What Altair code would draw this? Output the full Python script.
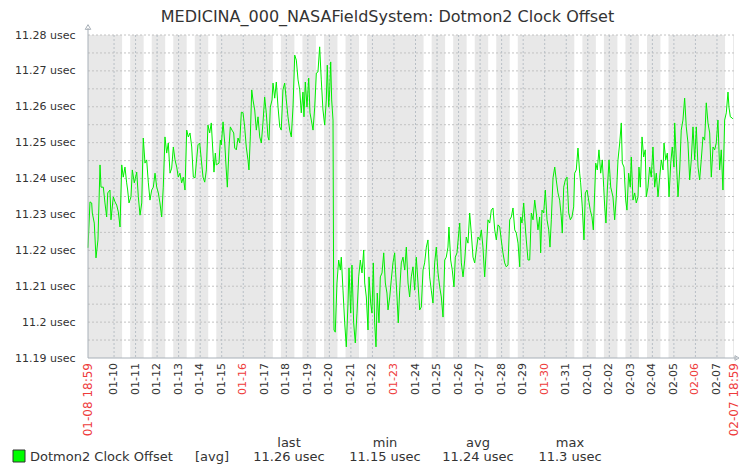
import altair as alt
import pandas as pd

TITLE = "MEDICINA_000_NASAFieldSystem: Dotmon2 Clock Offset"
START = "2022-01-08 18:59"
END_LABEL = "02-07 18:59"
START_LABEL = "01-08 18:59"
SPAN_HOURS = 720

# hours since START, and the plotted value (usec)
hours = [
    0, 2.2, 4.1, 4.8, 7.0, 8.9, 11.1, 13.4, 14.5, 17.1, 18.9, 20.8, 22.0, 24.5, 25.6, 28.2, 30.1, 32.0, 33.8, 35.7,
    37.6, 39.3, 41.2, 43.1, 44.2, 45.7, 47.9, 49.4, 51.6, 54.3, 56.1, 58.0, 59.9, 61.6, 63.5, 65.4, 67.2, 69.1, 71.0, 72.8,
    74.7, 76.6, 78.4, 80.2, 82.1, 83.9, 85.8, 87.7, 89.5, 91.4, 93.3, 95.1, 97.0, 98.9, 100.6, 102.5, 104.4, 106.2, 108.1, 110.0,
    111.8, 113.7, 115.6, 117.4, 119.3,
    120.7, 122.6, 124.5, 126.3, 128.2, 130.1, 131.9, 133.7, 135.6, 137.4, 139.3, 140.4, 141.9, 143.0, 146.0, 147.5, 148.6, 150.5, 152.4, 154.1,
    155.3, 157.2, 158.6, 160.5, 162.4, 163.5, 165.3, 167.2, 169.1, 170.9, 172.8, 174.6, 176.4, 178.3, 179.4, 180.9, 182.5, 183.9, 185.8, 187.6,
    189.5, 191.4, 193.2, 195.0, 196.9, 198.7, 200.6, 201.7, 203.2, 205.1, 206.2, 208.1, 209.9, 211.8, 213.7, 215.4, 217.3, 219.2, 221.0, 222.9,
    224.8, 226.6, 228.5, 230.4, 232.2, 234.1, 236.0,
    237.7, 239.6, 240.7, 242.2, 244.1, 246.0, 247.4, 248.9, 250.8, 252.7, 254.5, 256.3, 258.2, 260.0, 261.9, 263.8, 265.6, 266.7, 268.3, 269.4,
    270.5, 271.6, 273.1, 273.8, 274.2, 275.6, 277.5, 279.4, 281.2, 282.3, 284.2, 286.1, 287.9, 289.8, 290.9, 292.8, 294.2, 296.1, 297.9, 299.8,
    301.7, 303.5, 305.4, 307.3, 308.4, 310.2, 312.1, 313.2, 315.1, 316.5, 318.0, 319.5, 321.0, 322.4, 324.3, 325.8, 327.7, 329.6, 331.4, 333.2,
    334.4, 336.3, 338.0, 339.9, 341.8, 342.9, 344.4, 345.8, 347.4, 349.2, 351.1, 353.0, 354.8, 356.7, 358.5,
    360.3, 362.2, 364.1, 365.9, 367.8, 369.7, 371.5, 373.4, 375.2, 377.1, 378.9, 380.8, 382.6, 384.5, 386.4, 388.2, 390.1, 392.0, 393.8, 395.7,
    397.6, 399.3, 401.2, 402.3, 404.2, 406.0, 407.9, 409.4, 411.3, 413.2, 414.3, 416.1, 418.0, 419.9, 421.6, 423.5, 425.4, 427.2, 429.1, 431.0,
    432.8, 434.7, 436.6, 438.4, 440.2, 442.1, 443.9, 445.8, 447.7, 449.5, 451.4, 453.3, 455.1, 457.0, 458.9, 460.6, 462.5, 464.4, 466.2,
    468.1, 470.0, 471.8, 473.7, 475.6, 477.4, 479.3, 481.2, 482.3, 483.7, 485.6, 487.4, 488.5, 490.4, 492.3, 494.1, 496.0, 497.9, 499.6, 501.5,
    503.4, 504.5, 506.0, 507.9, 509.7, 511.6, 513.5, 514.9, 516.4, 518.3, 520.2, 521.9, 523.8, 525.7, 527.5, 528.6, 530.2, 532.0, 533.9, 535.8,
    537.6, 539.4, 541.3, 542.4, 544.2, 546.1, 548.0, 549.1, 550.9, 552.8, 554.3, 556.2, 558.0, 559.8, 561.7, 563.2, 564.7, 565.9, 567.6, 569.5,
    571.4, 573.2, 574.8, 575.9, 577.3, 578.8, 580.7, 582.6, 584.1,
    585.1, 587.0, 588.8, 590.7, 592.6, 594.4, 595.5, 597.4, 599.3, 600.7, 602.6, 604.4, 605.5, 607.4, 609.3, 611.1, 613.0, 614.1, 615.6, 617.5,
    619.3, 621.1, 622.2, 624.1, 626.0, 627.8, 629.7, 631.6, 633.4, 635.3, 637.2, 639.0, 640.9, 642.0, 643.9, 645.7, 647.6, 649.5, 651.2, 653.1,
    653.9, 655.7, 657.6, 659.5, 661.2, 663.1, 665.0, 666.8, 668.7, 670.6, 672.4, 674.3, 676.2, 678.0, 679.9, 681.7, 683.5, 685.4, 687.3, 689.1,
    691.0, 692.9, 694.7, 696.6, 698.5, 700.2, 702.1, 704.0, 705.8, 707.7, 709.6, 711.4, 713.3, 714.4, 715.9, 717.8, 718.9,
]

offset_usec = [
    11.2207, 11.2335, 11.2332, 11.2304, 11.2276, 11.2179, 11.2229, 11.2438, 11.2376, 11.2376, 11.2332, 11.2293, 11.2360, 11.2368, 11.2285, 11.2349, 11.2335, 11.2326, 11.2307, 11.2265,
    11.2438, 11.2404, 11.2432, 11.2388, 11.2368, 11.2332, 11.2349, 11.2424, 11.2388, 11.2418, 11.2349, 11.2298, 11.2332, 11.2513, 11.2443, 11.2452, 11.2390, 11.2340, 11.2368, 11.2376,
    11.2415, 11.2376, 11.2360, 11.2332, 11.2293, 11.2376, 11.2516, 11.2471, 11.2499, 11.2415, 11.2429, 11.2488, 11.2452, 11.2432, 11.2404, 11.2415, 11.2388, 11.2404, 11.2368, 11.2535,
    11.2516, 11.2527, 11.2488, 11.2404, 11.2402,
    11.2443, 11.2494, 11.2499, 11.2452, 11.2404, 11.2390, 11.2424, 11.2549, 11.2527, 11.2555, 11.2471, 11.2418, 11.2471, 11.2438, 11.2443, 11.2507, 11.2494, 11.2558, 11.2499, 11.2424,
    11.2376, 11.2488, 11.2544, 11.2535, 11.2527, 11.2485, 11.2480, 11.2513, 11.2499, 11.2585, 11.2583, 11.2544, 11.2488, 11.2452, 11.2424, 11.2516, 11.2647, 11.2619, 11.2591, 11.2535,
    11.2572, 11.2516, 11.2499, 11.2555, 11.2627, 11.2583, 11.2516, 11.2507, 11.2599, 11.2619, 11.2666, 11.2624, 11.2669, 11.2599, 11.2544, 11.2535, 11.2647, 11.2666, 11.2619, 11.2572,
    11.2535, 11.2516, 11.2599, 11.2744, 11.2730, 11.2675, 11.2647,
    11.2583, 11.2641, 11.2572, 11.2669, 11.2599, 11.2680, 11.2583, 11.2563, 11.2535, 11.2599, 11.2694, 11.2697, 11.2767, 11.2675, 11.2591, 11.2549, 11.2619, 11.2716, 11.2599, 11.2647,
    11.2725, 11.2619, 11.2563, 11.2070, 11.1978, 11.1972, 11.2109, 11.2173, 11.2145, 11.2181, 11.2089, 11.1998, 11.1931, 11.2053, 11.2151, 11.2025, 11.2159, 11.1998, 11.1942, 11.2025,
    11.2126, 11.2173, 11.2137, 11.2201, 11.2109, 11.2070, 11.1978, 11.2126, 11.2053, 11.2025, 11.2165, 11.1998, 11.1931, 11.2081, 11.1998, 11.2126, 11.2137, 11.2193, 11.2109, 11.2081,
    11.2034, 11.2070, 11.2117, 11.2165, 11.2193, 11.2137, 11.2070, 11.1998, 11.2089, 11.2165, 11.2181, 11.2145, 11.2209, 11.2109, 11.2070,
    11.2126, 11.2154, 11.2089, 11.2181, 11.2109, 11.2034, 11.2042, 11.2145, 11.2165, 11.2209, 11.2229, 11.2126, 11.2089, 11.2053, 11.2165, 11.2209, 11.2137, 11.2098, 11.2070, 11.2014,
    11.2173, 11.2181, 11.2209, 11.2265, 11.2173, 11.2145, 11.2098, 11.2181, 11.2193, 11.2248, 11.2276, 11.2165, 11.2126, 11.2173, 11.2237, 11.2220, 11.2304, 11.2248, 11.2181, 11.2165,
    11.2201, 11.2237, 11.2229, 11.2257, 11.2209, 11.2126, 11.2201, 11.2285, 11.2276, 11.2312, 11.2318, 11.2257, 11.2229, 11.2271, 11.2265, 11.2229, 11.2193, 11.2165, 11.2154,
    11.2159, 11.2285, 11.2293, 11.2318, 11.2257, 11.2248, 11.2220, 11.2154, 11.2293, 11.2276, 11.2332, 11.2265, 11.2229, 11.2173, 11.2173, 11.2304, 11.2285, 11.2340, 11.2304, 11.2257,
    11.2293, 11.2193, 11.2312, 11.2304, 11.2368, 11.2285, 11.2257, 11.2209, 11.2285, 11.2402, 11.2432, 11.2396, 11.2360, 11.2340, 11.2293, 11.2248, 11.2376, 11.2396, 11.2404, 11.2304,
    11.2285, 11.2293, 11.2321, 11.2415, 11.2424, 11.2485, 11.2415, 11.2388, 11.2321, 11.2229, 11.2360, 11.2368, 11.2340, 11.2312, 11.2293, 11.2257, 11.2360, 11.2443, 11.2424, 11.2480,
    11.2415, 11.2452, 11.2376, 11.2321, 11.2276, 11.2368, 11.2452, 11.2376, 11.2360,
    11.2349, 11.2285, 11.2349, 11.2452, 11.2499, 11.2555, 11.2443, 11.2432, 11.2340, 11.2312, 11.2415, 11.2376, 11.2460, 11.2340, 11.2360, 11.2332, 11.2349, 11.2432, 11.2376, 11.2516,
    11.2460, 11.2480, 11.2349, 11.2376, 11.2432, 11.2404, 11.2488, 11.2376, 11.2415, 11.2349, 11.2404, 11.2452, 11.2424, 11.2499, 11.2452, 11.2471, 11.2349, 11.2443, 11.2488, 11.2432,
    11.2555, 11.2452, 11.2349, 11.2424, 11.2535, 11.2563, 11.2624, 11.2544, 11.2499, 11.2396, 11.2452, 11.2544, 11.2452, 11.2544, 11.2432, 11.2396, 11.2452, 11.2516, 11.2507, 11.2611,
    11.2555, 11.2527, 11.2404, 11.2488, 11.2480, 11.2499, 11.2563, 11.2424, 11.2480, 11.2368, 11.2563, 11.2583, 11.2641, 11.2599, 11.2572, 11.2569, 11.2566,
]

day_labels = ["01-10", "01-11", "01-12", "01-13", "01-14", "01-15", "01-16", "01-17", "01-18", "01-19",
              "01-20", "01-21", "01-22", "01-23", "01-24", "01-25", "01-26", "01-27", "01-28", "01-29",
              "01-30", "01-31", "02-01", "02-02", "02-03", "02-04", "02-05", "02-06", "02-07"]
red_days = ["01-16", "01-23", "01-30", "02-06"]
work_days = ["01-10", "01-11", "01-12", "01-13", "01-14",
             "01-17", "01-18", "01-19", "01-20", "01-21",
             "01-24", "01-25", "01-26", "01-27", "01-28",
             "01-31", "02-01", "02-02", "02-03", "02-04",
             "02-07"]
work_hours = ("09:00", "18:00")

y_ticks = [11.19, 11.20, 11.21, 11.22, 11.23, 11.24, 11.25, 11.26, 11.27, 11.28]
y_grid = [11.195, 11.20, 11.205, 11.21, 11.215, 11.22, 11.225, 11.23, 11.235,
          11.24, 11.245, 11.25, 11.255, 11.26, 11.265, 11.27, 11.275, 11.28]

legend_name = "Dotmon2 Clock Offset"
legend_func = "[avg]"
stat_names = ["last", "min", "avg", "max"]
stat_values = ["11.26 usec", "11.15 usec", "11.24 usec", "11.3 usec"]

# ---------------------------------------------------------------- layout / style
W, H = 646, 323
PAD_LEFT, PAD_TOP, PAD_RIGHT, PAD_BOTTOM = 80, 27, 7, 108
PLOT_X0 = PAD_LEFT + 8          # page x of the plot's left edge
FONT = "DejaVu Sans"
TEXT = "#333333"
RED = "#ee3b3b"
GREEN = "#00ee00"
AXIS = "#a8b0b8"
# legend positions in page pixels, converted to plot coordinates
stat_x = [p - PLOT_X0 for p in (289, 385, 478, 570)]
name_x = [p - PLOT_X0 for p in (30, 195)]
square_x = 19 - PLOT_X0
title_x = 387.5 - PLOT_X0
LEG_HEAD_Y, LEG_ROW_Y = 412, 426

t0 = pd.Timestamp(START)


def hrs(day, clock="00:00"):
    return (pd.Timestamp(f"2022-{day} {clock}") - t0) / pd.Timedelta(hours=1)


series = pd.DataFrame({"h": hours, "v": offset_usec})
bands = pd.DataFrame({"h0": [hrs(d, work_hours[0]) for d in work_days],
                      "h1": [hrs(d, work_hours[1]) for d in work_days]})
ticks = pd.DataFrame({
    "h": [0] + [hrs(d) for d in day_labels] + [SPAN_HOURS],
    "label": [START_LABEL] + day_labels + [END_LABEL],
    "color": [RED] + [RED if d in red_days else TEXT for d in day_labels] + [RED],
    "fs": [12] + [11 for _ in day_labels] + [12],
})
vgrid = pd.DataFrame({"h": [hrs(d) for d in day_labels]})

xs = alt.Scale(domain=[0, SPAN_HOURS], nice=False, zero=False)
ys = alt.Scale(domain=[y_ticks[0], y_ticks[-1]], nice=False, zero=False)
yaxis = alt.Axis(values=y_ticks, labelExpr="format(datum.value, '.2~f') + ' usec'",
                 grid=False, ticks=False, tickSize=0, domain=False, labelPadding=13,
                 labelFont=FONT, labelFontSize=11, labelColor=TEXT, title=None)
one = alt.Data(values=[{"k": 0}])

band_layer = alt.Chart(bands).mark_rect(color="#ffffff").encode(
    x=alt.X("h0:Q", scale=xs, axis=None), x2="h1:Q", y=alt.value(0), y2=alt.value(H))

hgrid = alt.Chart(pd.DataFrame({"v": y_grid})).mark_rule(
    color="#c2c2c2", strokeDash=[2, 2], strokeWidth=1).encode(
    y=alt.Y("v:Q", scale=ys, axis=yaxis))

vgrid_layer = alt.Chart(vgrid).mark_rule(
    color="#b8bfc6", strokeDash=[2, 2], strokeWidth=1).encode(
    x=alt.X("h:Q", scale=xs, axis=None))

line = alt.Chart(series).mark_line(color=GREEN, strokeWidth=1).encode(
    x=alt.X("h:Q", scale=xs, axis=None), y=alt.Y("v:Q", scale=ys, axis=yaxis))

yline = alt.Chart(one).mark_rule(color=AXIS, strokeWidth=1).encode(
    x=alt.value(0), y=alt.value(-7), y2=alt.value(H))
xline = alt.Chart(one).mark_rule(color=AXIS, strokeWidth=1).encode(
    y=alt.value(H), x=alt.value(0), x2=alt.value(W + 3))
yarrow = alt.Chart(one).mark_point(shape="triangle-up", filled=False, size=30,
                                   color=AXIS, strokeWidth=1, opacity=1).encode(
    x=alt.value(0), y=alt.value(-8))
xarrow = alt.Chart(one).mark_point(shape="triangle-right", filled=False, size=22,
                                   color=AXIS, strokeWidth=1, opacity=1).encode(
    x=alt.value(W + 3), y=alt.value(H))

xlabels = alt.Chart(ticks).mark_text(angle=270, align="right", baseline="middle", font=FONT).encode(
    x=alt.X("h:Q", scale=xs, axis=None), y=alt.value(H + 5), text="label:N",
    color=alt.Color("color:N", scale=None), size=alt.Size("fs:Q", scale=None))

title = alt.Chart(pd.DataFrame({"t": [TITLE]})).mark_text(
    font=FONT, fontSize=16, color=TEXT, align="center", baseline="alphabetic").encode(
    x=alt.value(title_x), y=alt.value(-13), text="t:N")

legend_sq = alt.Chart(one).mark_square(size=144, color="#00ff00", stroke="#333333",
                                       strokeWidth=1, opacity=1).encode(
    x=alt.value(square_x), y=alt.value(LEG_ROW_Y - 5))
legend_txt = alt.Chart(pd.DataFrame({"t": [legend_name, legend_func], "px": name_x})).mark_text(
    font=FONT, fontSize=13, color=TEXT, align="left", baseline="alphabetic").encode(
    x=alt.X("px:Q", scale=None), y=alt.value(LEG_ROW_Y), text="t:N")
stats = pd.DataFrame({"name": stat_names, "val": stat_values, "px": stat_x})
stat_head = alt.Chart(stats).mark_text(
    font=FONT, fontSize=13, color=TEXT, align="center", baseline="alphabetic").encode(
    x=alt.X("px:Q", scale=None), y=alt.value(LEG_HEAD_Y), text="name:N")
stat_val = alt.Chart(stats).mark_text(
    font=FONT, fontSize=13, color=TEXT, align="center", baseline="alphabetic").encode(
    x=alt.X("px:Q", scale=None), y=alt.value(LEG_ROW_Y), text="val:N")

chart = alt.layer(
    band_layer, hgrid, vgrid_layer, line, yline, xline, yarrow, xarrow,
    xlabels, title, legend_sq, legend_txt, stat_head, stat_val,
).properties(
    width=W, height=H, background="#ffffff",
    padding={"left": PAD_LEFT, "top": PAD_TOP, "right": PAD_RIGHT, "bottom": PAD_BOTTOM},
    autosize=alt.AutoSizeParams(type="none"),
).configure_view(stroke=None, fill="#e8e8e8")

chart.save("out.html", embed_options={"renderer": "svg", "actions": False})
